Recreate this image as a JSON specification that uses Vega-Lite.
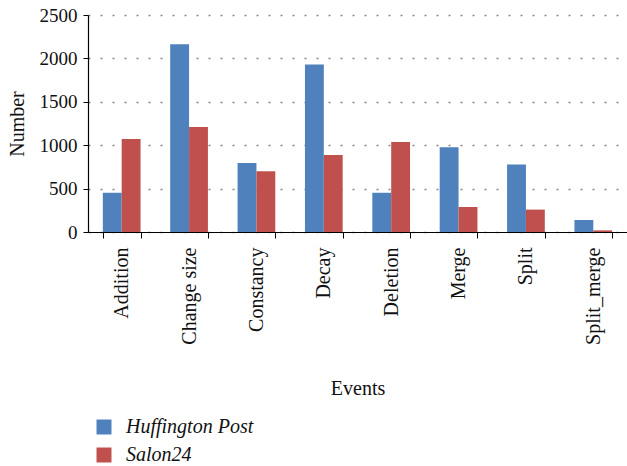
{
  "$schema": "https://vega.github.io/schema/vega-lite/v6.json",
  "autosize": {"type": "none"},
  "padding": {"left": 88, "top": 15, "right": 0, "bottom": 234},
  "width": 539,
  "height": 217,
  "background": "white",
  "data": {
    "values": [
      {"event": "Addition", "source": "Huffington Post", "count": 452},
      {"event": "Addition", "source": "Salon24", "count": 1070},
      {"event": "Change size", "source": "Huffington Post", "count": 2162},
      {"event": "Change size", "source": "Salon24", "count": 1211},
      {"event": "Constancy", "source": "Huffington Post", "count": 796},
      {"event": "Constancy", "source": "Salon24", "count": 700},
      {"event": "Decay", "source": "Huffington Post", "count": 1931},
      {"event": "Decay", "source": "Salon24", "count": 888},
      {"event": "Deletion", "source": "Huffington Post", "count": 452},
      {"event": "Deletion", "source": "Salon24", "count": 1038},
      {"event": "Merge", "source": "Huffington Post", "count": 977},
      {"event": "Merge", "source": "Salon24", "count": 288},
      {"event": "Split", "source": "Huffington Post", "count": 777},
      {"event": "Split", "source": "Salon24", "count": 258},
      {"event": "Split_merge", "source": "Huffington Post", "count": 138},
      {"event": "Split_merge", "source": "Salon24", "count": 19}
    ]
  },
  "mark": {"type": "bar"},
  "encoding": {
    "x": {
      "field": "event",
      "type": "nominal",
      "title": "Events",
      "scale": {"paddingInner": 0.44, "paddingOuter": 0.22},
      "axis": {
        "labelAngle": -90,
        "labelAlign": "right",
        "labelBaseline": "middle",
        "labelFont": "Liberation Serif",
        "labelFontSize": 20,
        "labelColor": "#111",
        "labelPadding": 9,
        "titleFont": "Liberation Serif",
        "titleFontSize": 20,
        "titleFontWeight": "normal",
        "titleColor": "#111",
        "titlePadding": 34,
        "domainColor": "#000",
        "domainWidth": 1.2,
        "tickColor": "#000",
        "tickSize": 6,
        "tickBand": "extent",
        "grid": false
      }
    },
    "y": {
      "field": "count",
      "type": "quantitative",
      "title": "Number",
      "scale": {"domain": [0, 2500], "nice": false},
      "axis": {
        "values": [0, 500, 1000, 1500, 2000, 2500],
        "format": "d",
        "labelFont": "Liberation Serif",
        "labelFontSize": 19,
        "labelColor": "#111",
        "labelPadding": 6,
        "titleFont": "Liberation Serif",
        "titleFontSize": 20,
        "titleFontWeight": "normal",
        "titleColor": "#111",
        "titlePadding": 12,
        "domainColor": "#000",
        "domainWidth": 1.2,
        "tickColor": "#000",
        "tickSize": 5,
        "grid": true,
        "gridColor": "#888",
        "gridDash": [2, 10],
        "gridWidth": 1.5
      }
    },
    "xOffset": {"field": "source", "type": "nominal"},
    "color": {
      "field": "source",
      "type": "nominal",
      "title": null,
      "scale": {"domain": ["Huffington Post", "Salon24"], "range": ["#4F81BD", "#C0504D"]},
      "legend": {
        "orient": "none",
        "legendX": 6,
        "legendY": 402,
        "symbolType": "square",
        "symbolSize": 225,
        "symbolStrokeWidth": 0,
        "labelFont": "Liberation Serif",
        "labelFontSize": 20,
        "labelFontStyle": "italic",
        "labelColor": "#111",
        "labelOffset": 12,
        "rowPadding": 8
      }
    }
  },
  "config": {"view": {"stroke": null}}
}
